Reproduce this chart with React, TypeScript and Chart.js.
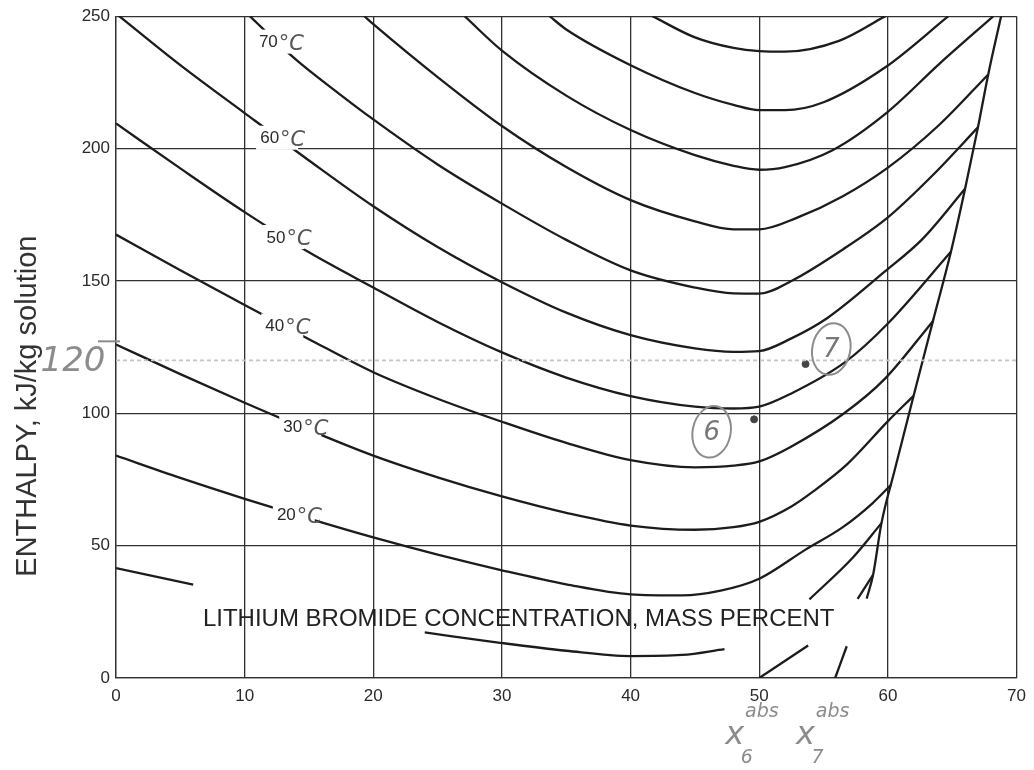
import React, { useEffect, useRef } from "react";
import { Chart, registerables } from "chart.js";

Chart.register(...registerables);

// ---- axis ticks ----
const xTickValues = [0, 10, 20, 30, 40, 50, 60, 70];
const yTickValues = [0, 50, 100, 150, 200, 250];

// ---- isotherms: [LiBr mass %, enthalpy kJ/kg]; null marks a break in the printed line ----
const iso10 = [[0, 41.5], [6, 35.3], [15, null], [24, 17.2], [30, 13.2], [35, 10.3], [40, 8.3], [44, 8.7], [47.3, 10.9], [50.5, null], [53.9, 29.7], [57.3, 45.6], [59.5, 58.5]];
const iso20 = [[0, 84], [5, 75.6], [10, 67.7], [15, 60.2], [20, 53.1], [25, 46.6], [30, 40.7], [35, 35.4], [40, 31.6], [44, 31.2], [47, 33], [50, 37.5], [53.6, 48.5], [56.5, 57], [58.8, 66], [60.25, 73]];
const iso30 = [[0, 126], [5, 114.8], [10, 104], [15, 93.7], [20, 84], [25, 75.8], [30, 68.6], [35, 62.4], [40, 57.6], [45, 56], [48, 57], [50, 59], [52.5, 64.8], [54.2, 70.5], [56.8, 80.6], [60.1, 97.5], [62, 106.6]];
const iso40 = [[0, 167.5], [5, 154], [10, 140.9], [15, 128], [20, 115.5], [25, 105.5], [30, 96.8], [35, 88.8], [40, 82.3], [45, 79.6], [48, 80.2], [50, 81.8], [52.4, 87.2], [56.6, 100], [59.8, 113.2], [63.5, 134.8]];
const iso50 = [[0, 209.5], [5, 192.5], [10, 176], [15, 160.8], [20, 147.5], [25, 134.5], [30, 123], [35, 113.5], [40, 106.5], [45, 102.5], [48, 101.8], [50, 102.5], [52.5, 107.5], [56.7, 119.4], [60, 133.9], [64.9, 161]];
const iso60 = [[0, 251], [5, 231.5], [10, 213.4], [15, 195.5], [20, 178.2], [25, 162.8], [30, 149.5], [35, 138], [40, 129.5], [45, 124.5], [48, 123.2], [50, 123.5], [52.5, 128.3], [55.3, 136], [59.7, 153.3], [62.7, 165.9], [66, 184.8]];
const iso70 = [[10.4, 250], [13.9, 234], [17, 222], [20, 211], [25, 194], [30, 179.2], [35, 165.5], [40, 154], [45, 147.5], [48, 145.3], [50, 145.2], [52.5, 150], [56.5, 161.9], [60, 174], [63.5, 190], [67, 208]];
const iso80 = [[19.3, 250], [20, 247], [25, 227], [30, 208.5], [35, 193], [40, 180.5], [45, 172.5], [48, 169.5], [50, 169.5], [53, 174], [56.5, 182], [60, 192.8], [64, 209], [67.8, 228]];
const iso90 = [[27.1, 250], [30, 237], [35, 220], [40, 207], [45, 197.5], [48, 193.5], [50, 192], [52, 193], [55.7, 199.4], [59.9, 213.5], [64, 232], [68.2, 250]];
const iso100 = [[33.7, 250], [35, 245], [40, 231.5], [45, 221], [48, 216.5], [50, 214.5], [52, 214.5], [55, 217.5], [59.8, 230.7], [64.7, 250]];
const iso110 = [[41.7, 250], [45, 242], [48, 238], [50, 236.8], [52, 236.6], [56.2, 240.7], [59.8, 250]];

// crystallization line and the low line starting at 50 %
const crystalLine = [[55.9, 0], [56.8, 12], [57.6, null], [58.35, 30], [58.85, 39], [59.5, 58.5], [60.5, 78], [62, 106.6], [63.5, 134.8], [64.9, 161], [66, 184.8], [67, 208], [67.8, 228], [68.8, 250]];
const lowLine = [[50, 0], [53.8, 12.3], [55.7, null], [57.65, 29.9], [58.85, 39]];

// isotherm labels (temperature, concentration where printed)
const labelTemps = [70, 60, 50, 40, 30, 20];
const labelX = [12.5, 12.6, 13.1, 13.0, 14.4, 13.9];

// hand-marked states 6 and 7
const stateNames = ["6", "7"];
const stateX = [49.6, 53.6];
const stateY = [97.7, 118.6];
const circleX = [46.3, 55.6];
const circleY = [93, 124.3];

// pencil line at 120 kJ/kg
const pencilLine = [[0, 120], [70, 120]];

const xTitle = "LITHIUM BROMIDE CONCENTRATION, MASS PERCENT";
const yTitle = "ENTHALPY, kJ/kg solution";

const isoCurves: Record<number, (number | null)[][]> = {
  10: iso10, 20: iso20, 30: iso30, 40: iso40, 50: iso50, 60: iso60,
  70: iso70, 80: iso80, 90: iso90, 100: iso100, 110: iso110,
};

const toPts = (arr: (number | null)[][]) => arr.map(([x, y]) => ({ x: x as number, y: y as any }));

function interpY(arr: (number | null)[][], x: number): number {
  const pts = arr.filter((p) => p[1] !== null) as number[][];
  for (let i = 0; i < pts.length - 1; i++) {
    const [x0, y0] = pts[i];
    const [x1, y1] = pts[i + 1];
    if (x >= x0 && x <= x1) return y0 + ((y1 - y0) * (x - x0)) / (x1 - x0);
  }
  return pts[pts.length - 1][1];
}

const INK = "#1c1c1c";
const GRID = "#303030";
const PENCIL = "#8c8c8c";

const overlayPlugin = {
  id: "overlay",
  afterDatasetsDraw(chart: any) {
    const { ctx, chartArea } = chart;
    const xs = chart.scales.x;
    const ys = chart.scales.y;
    ctx.save();

    // isotherm labels with a white gap in the line
    labelTemps.forEach((t, i) => {
      const xv = labelX[i];
      const yv = interpY(isoCurves[t], xv);
      const px = xs.getPixelForValue(xv);
      const py = ys.getPixelForValue(yv);
      ctx.fillStyle = "#ffffff";
      ctx.fillRect(px - 22, py - 12, 42, 24);
      ctx.fillStyle = "#2a2a2a";
      ctx.font = '17px "Liberation Sans", Arial, sans-serif';
      ctx.textAlign = "right";
      ctx.textBaseline = "middle";
      ctx.fillText(String(t), px + 1, py + 1);
      ctx.fillStyle = "#555";
      ctx.font = 'italic 21px "DejaVu Sans", sans-serif';
      ctx.textAlign = "left";
      ctx.fillText("°C", px + 2, py + 3);
    });

    // x-axis title printed inside the plot
    ctx.fillStyle = "#222";
    ctx.font = '24px "Liberation Sans", Arial, sans-serif';
    ctx.textAlign = "center";
    ctx.textBaseline = "middle";
    ctx.fillText(xTitle, xs.getPixelForValue(31.3), ys.getPixelForValue(22.3));

    // y-axis title
    ctx.save();
    ctx.translate(28, (chartArea.top + chartArea.bottom) / 2 + 59);
    ctx.rotate(-Math.PI / 2);
    ctx.fillStyle = "#333";
    ctx.font = '29px "Liberation Sans", Arial, sans-serif';
    ctx.textAlign = "center";
    ctx.textBaseline = "middle";
    ctx.fillText(yTitle, 0, 0);
    ctx.restore();

    // circled state numbers
    ctx.strokeStyle = PENCIL;
    ctx.lineWidth = 2;
    stateNames.forEach((n, i) => {
      const cx = xs.getPixelForValue(circleX[i]);
      const cy = ys.getPixelForValue(circleY[i]);
      ctx.beginPath();
      ctx.ellipse(cx, cy, 19, 26, 0.2, 0, Math.PI * 2);
      ctx.stroke();
      ctx.fillStyle = "#777";
      ctx.font = 'italic 26px "DejaVu Sans", sans-serif';
      ctx.textAlign = "center";
      ctx.textBaseline = "middle";
      ctx.fillText(n, cx, cy + 1);
    });

    // handwritten 120 at the left
    ctx.fillStyle = PENCIL;
    ctx.font = 'italic 34px "DejaVu Sans", sans-serif';
    ctx.textAlign = "center";
    ctx.textBaseline = "middle";
    const p120 = ys.getPixelForValue(120);
    ctx.fillText("120", 73, p120 + 2);
    ctx.fillRect(98, p120 - 20, 22, 2);

    // handwritten x6 abs / x7 abs below the axis
    const by = chartArea.bottom;
    const drawX = (xv: number, sub: string) => {
      const px = xs.getPixelForValue(xv);
      ctx.font = 'italic 32px "DejaVu Sans", sans-serif';
      ctx.textAlign = "center";
      ctx.fillText("x", px, by + 58);
      ctx.font = 'italic 19px "DejaVu Sans", sans-serif';
      ctx.fillText(sub, px + 12, by + 80);
      ctx.fillText("abs", px + 27, by + 34);
    };
    drawX(48.1, "6");
    drawX(53.6, "7");

    ctx.restore();
  },
};

export default function App() {
  const canvasRef = useRef<HTMLCanvasElement | null>(null);

  useEffect(() => {
    const canvas = canvasRef.current;
    if (!canvas) return;

    const isoDatasets = Object.keys(isoCurves).map((k) => ({
      label: `${k} °C`,
      data: toPts(isoCurves[Number(k)]),
      showLine: true,
      borderColor: INK,
      borderWidth: 2.3,
      pointRadius: 0,
      cubicInterpolationMode: "monotone" as const,
      spanGaps: false,
      clip: 0,
    }));

    const chart = new Chart(canvas, {
      type: "scatter",
      data: {
        datasets: [
          {
            label: "120 kJ/kg",
            data: toPts(pencilLine),
            showLine: true,
            borderColor: "#c4c4c4",
            borderWidth: 1.6,
            borderDash: [4, 3],
            pointRadius: 0,
          },
          ...isoDatasets,
          {
            label: "crystallization",
            data: toPts(crystalLine),
            showLine: true,
            borderColor: INK,
            borderWidth: 2.3,
            pointRadius: 0,
            cubicInterpolationMode: "monotone" as const,
            spanGaps: false,
            clip: 0,
          },
          {
            label: "low",
            data: toPts(lowLine),
            showLine: true,
            borderColor: INK,
            borderWidth: 2.3,
            pointRadius: 0,
            cubicInterpolationMode: "monotone" as const,
            spanGaps: false,
            clip: 0,
          },
          {
            label: "states",
            data: stateX.map((x, i) => ({ x, y: stateY[i] })),
            showLine: false,
            pointRadius: 3.5,
            pointBackgroundColor: "#444",
            pointBorderColor: "#444",
          },
        ],
      },
      options: {
        responsive: false,
        animation: false,
        layout: { padding: { top: 11, right: 16, left: 0, bottom: 0 } },
        plugins: {
          legend: { display: false },
          tooltip: { enabled: false },
        },
        scales: {
          x: {
            type: "linear",
            min: 0,
            max: 70,
            afterBuildTicks: (s: any) => {
              s.ticks = xTickValues.map((v) => ({ value: v }));
            },
            afterFit: (s: any) => {
              s.height = 92;
            },
            ticks: {
              color: "#2a2a2a",
              padding: 8,
              maxRotation: 0,
              font: { family: '"Liberation Sans", Arial, sans-serif', size: 17 },
            },
            grid: { color: GRID, lineWidth: 1.3, drawTicks: false },
            border: { color: GRID, width: 1.3 },
          },
          y: {
            min: 0,
            max: 250,
            afterBuildTicks: (s: any) => {
              s.ticks = yTickValues.map((v) => ({ value: v }));
            },
            afterFit: (s: any) => {
              s.width = 116;
            },
            ticks: {
              color: "#2a2a2a",
              padding: 6,
              font: { family: '"Liberation Sans", Arial, sans-serif', size: 17 },
            },
            grid: { color: GRID, lineWidth: 1.3, drawTicks: false },
            border: { color: GRID, width: 1.3 },
          },
        },
      },
      plugins: [overlayPlugin],
    });

    return () => chart.destroy();
  }, []);

  return (
    <div style={{ position: "fixed", left: 0, top: 0, width: 1034, height: 770, background: "#fff" }}>
      <canvas ref={canvasRef} width={1034} height={770} style={{ display: "block" }} />
    </div>
  );
}
